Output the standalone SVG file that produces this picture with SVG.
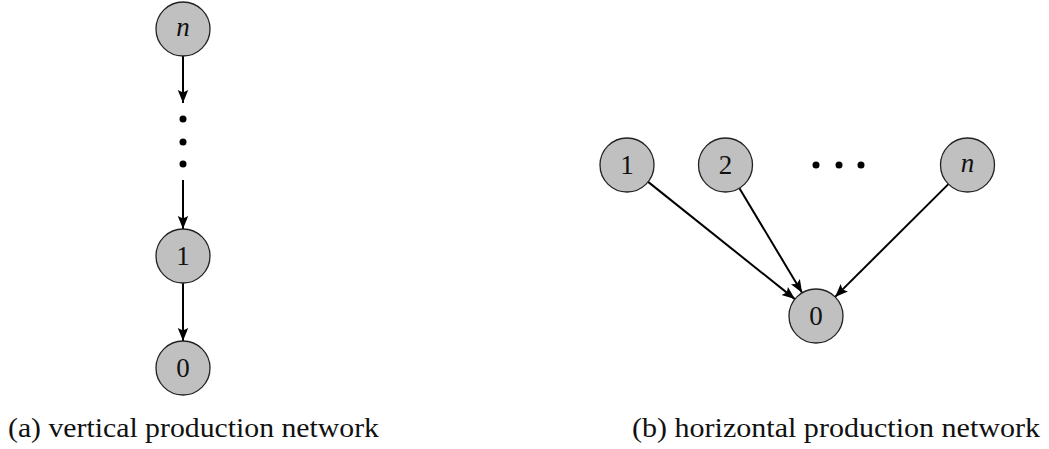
<svg xmlns="http://www.w3.org/2000/svg" width="1049" height="449" viewBox="0 0 1049 449">
<style>
.node circle{fill:#c0c0c0;stroke:#222;stroke-width:1.3}
.node text{font-family:"Liberation Serif","DejaVu Serif",serif;font-size:27px;fill:#111;text-anchor:middle;dominant-baseline:central}
.it{font-style:italic}
.edge{stroke:#000;stroke-width:2;fill:none;marker-end:url(#ah)}
.dot{fill:#000}
.cap{font-family:"Liberation Serif","DejaVu Serif",serif;font-size:28px;fill:#111}
</style>
<defs>
<marker id="ah" viewBox="0 0 10 10" refX="10" refY="5" markerWidth="6.5" markerHeight="6.5" orient="auto" markerUnits="strokeWidth">
<path d="M0,1 L10,5 L0,9 L2,5 Z" fill="#000"/>
</marker>
</defs>
<rect width="1049" height="449" fill="#fff"/>
<g id="connectors">
<line class="edge" x1="183" y1="56" x2="183" y2="103"/>
<line class="edge" x1="183" y1="180" x2="183" y2="229"/>
<line class="edge" x1="183" y1="283" x2="183" y2="341"/>
<line class="edge" x1="648.1" y1="181.9" x2="794.9" y2="299.1"/>
<line class="edge" x1="739.4" y1="188.2" x2="802.1" y2="292.8"/>
<line class="edge" x1="948.4" y1="184.1" x2="835.1" y2="296.9"/>
</g>
<g id="vdots">
<circle class="dot" cx="183" cy="119" r="3.5"/>
<circle class="dot" cx="183" cy="142" r="3.5"/>
<circle class="dot" cx="183" cy="164" r="3.5"/>
</g>
<g id="hdots">
<circle class="dot" cx="816" cy="165" r="3.5"/>
<circle class="dot" cx="839" cy="165" r="3.5"/>
<circle class="dot" cx="861" cy="165" r="3.5"/>
</g>
<g id="va_n" class="node"><circle cx="183" cy="29" r="27"/><text class="it" x="183" y="27">n</text></g>
<g id="va_1" class="node"><circle cx="183" cy="256" r="27"/><text x="183" y="256">1</text></g>
<g id="va_0" class="node"><circle cx="183" cy="368" r="27"/><text x="183" y="368">0</text></g>
<g id="hb_1" class="node"><circle cx="627" cy="165" r="27"/><text x="627" y="165">1</text></g>
<g id="hb_2" class="node"><circle cx="725.5" cy="165" r="27"/><text x="725.5" y="165">2</text></g>
<g id="hb_n" class="node"><circle cx="967.5" cy="165" r="27"/><text class="it" x="967.5" y="163">n</text></g>
<g id="hb_0" class="node"><circle cx="816" cy="316" r="27"/><text x="816" y="316">0</text></g>
<text class="cap" x="8" y="437" textLength="371" lengthAdjust="spacingAndGlyphs">(a) vertical production network</text>
<text class="cap" x="632" y="437" textLength="408" lengthAdjust="spacingAndGlyphs">(b) horizontal production network</text>
</svg>
